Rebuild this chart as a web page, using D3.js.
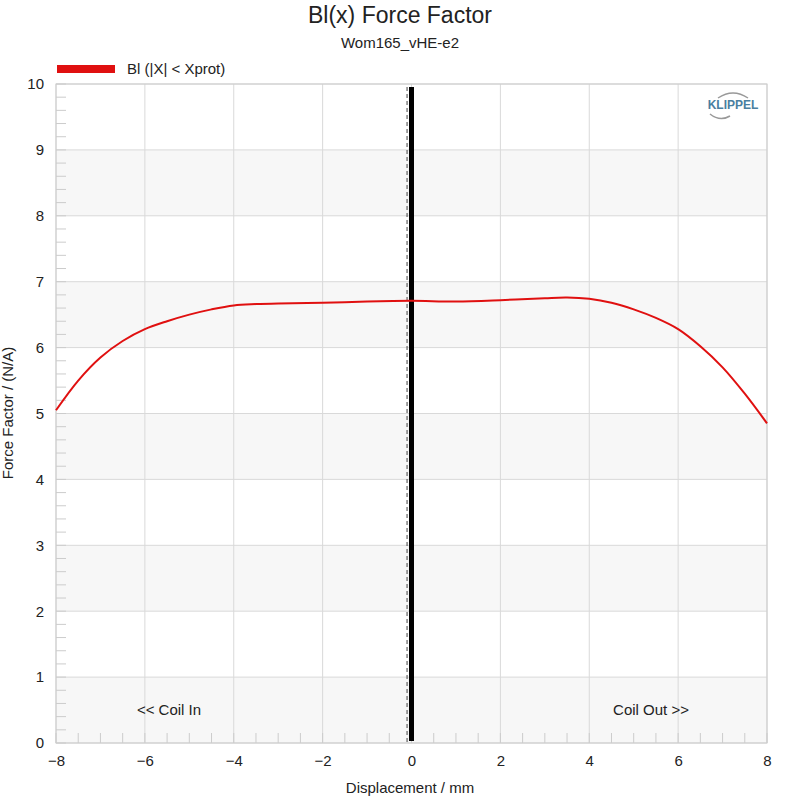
<!DOCTYPE html><html><head><meta charset="utf-8"><script src="https://cdn.jsdelivr.net/npm/d3@7"></script>
<style>body{margin:0;background:#fff}text{font-family:Arial,"Liberation Sans",sans-serif}</style></head><body><svg id="c" width="800" height="800"></svg><script>
const xs=[-8,-7.5,-7,-6.5,-6,-5.5,-5,-4.5,-4,-3.5,-3,-2,-1,0,1,2,3,3.5,4,4.5,5,5.5,6,6.5,7,7.5,8];
const bl=[5.05,5.5,5.85,6.1,6.28,6.4,6.5,6.58,6.64,6.66,6.67,6.68,6.7,6.71,6.7,6.72,6.75,6.76,6.74,6.68,6.58,6.45,6.28,6.02,5.7,5.3,4.85];
const xTicks=[-8,-6,-4,-2,0,2,4,6,8];
const yTicks=[0,1,2,3,4,5,6,7,8,9,10];
const svg=d3.select("#c");
const L=56,R=767,T=84,B=743;
const x=d3.scaleLinear([-8,8],[L,R]),y=d3.scaleLinear([0,10],[B,T]);
[0,2,4,6,8].forEach(v=>svg.append("rect").attr("x",L).attr("y",y(v+1)).attr("width",R-L).attr("height",y(v)-y(v+1)).attr("fill","#f7f7f7"));
xTicks.forEach(v=>svg.append("line").attr("x1",x(v)).attr("x2",x(v)).attr("y1",T).attr("y2",B).attr("stroke","#d9d9d9"));
yTicks.forEach(v=>svg.append("line").attr("x1",L).attr("x2",R).attr("y1",y(v)).attr("y2",y(v)).attr("stroke","#d9d9d9"));
d3.range(-8,8.01,0.5).forEach(v=>svg.append("line").attr("x1",x(v)).attr("x2",x(v)).attr("y1",B).attr("y2",B-10).attr("stroke","#ccc"));
d3.range(0,10.01,0.2).forEach(v=>svg.append("line").attr("x1",L).attr("x2",L+10).attr("y1",y(v)).attr("y2",y(v)).attr("stroke","#ccc"));
svg.append("rect").attr("x",L).attr("y",T).attr("width",R-L).attr("height",B-T).attr("fill","none").attr("stroke","#ccc");
svg.append("g").attr("transform",`translate(0,${B})`).call(d3.axisBottom(x).tickValues(xTicks).tickSize(0).tickPadding(12).tickFormat(d3.format("d"))).call(g=>{g.select(".domain").remove();g.selectAll("text").attr("font-size",15).attr("fill","#222").style("font-family","Arial")});
svg.append("g").attr("transform",`translate(${L},0)`).call(d3.axisLeft(y).tickValues(yTicks).tickSize(0).tickPadding(12)).call(g=>{g.select(".domain").remove();g.selectAll("text").attr("font-size",15).attr("fill","#222").style("font-family","Arial")});
svg.append("line").attr("x1",x(-0.1)).attr("x2",x(-0.1)).attr("y1",T+3).attr("y2",B).attr("stroke","#444").attr("stroke-dasharray","4,3");
svg.append("line").attr("x1",x(0)).attr("x2",x(0)).attr("y1",T+3).attr("y2",B-2).attr("stroke","#000").attr("stroke-width",5);
svg.append("path").datum(xs.map((d,i)=>[d,bl[i]])).attr("d",d3.line().x(d=>x(d[0])).y(d=>y(d[1])).curve(d3.curveCatmullRom)).attr("fill","none").attr("stroke","#e01010").attr("stroke-width",2);
svg.append("text").attr("x",400).attr("y",23).attr("text-anchor","middle").attr("font-size",23).attr("fill","#222").text("Bl(x) Force Factor");
svg.append("text").attr("x",400).attr("y",48).attr("text-anchor","middle").attr("font-size",15).attr("fill","#222").text("Wom165_vHE-e2");
svg.append("rect").attr("x",57).attr("y",65).attr("width",58).attr("height",8).attr("fill","#e01010");
svg.append("text").attr("x",127).attr("y",74).attr("font-size",15).attr("fill","#222").text("Bl (|X| < Xprot)");
svg.append("text").attr("x",410).attr("y",793).attr("text-anchor","middle").attr("font-size",15).attr("fill","#222").text("Displacement / mm");
svg.append("text").attr("transform","translate(13,413) rotate(-90)").attr("text-anchor","middle").attr("font-size",15).attr("fill","#222").text("Force Factor / (N/A)");
svg.append("text").attr("x",169).attr("y",715).attr("text-anchor","middle").attr("font-size",15).attr("fill","#222").text("<< Coil In");
svg.append("text").attr("x",651).attr("y",715).attr("text-anchor","middle").attr("font-size",15).attr("fill","#222").text("Coil Out >>");
svg.append("text").attr("x",733).attr("y",109).attr("text-anchor","middle").attr("font-size",12).attr("font-weight","bold").attr("fill","#4a7fa0").text("KLIPPEL");
svg.append("path").attr("d","M718,98 Q733,88 748,98").attr("fill","none").attr("stroke","#999").attr("stroke-width",1.5);
svg.append("path").attr("d","M710,114 Q720,122 730,116").attr("fill","none").attr("stroke","#999").attr("stroke-width",1.5);
</script></body></html>
